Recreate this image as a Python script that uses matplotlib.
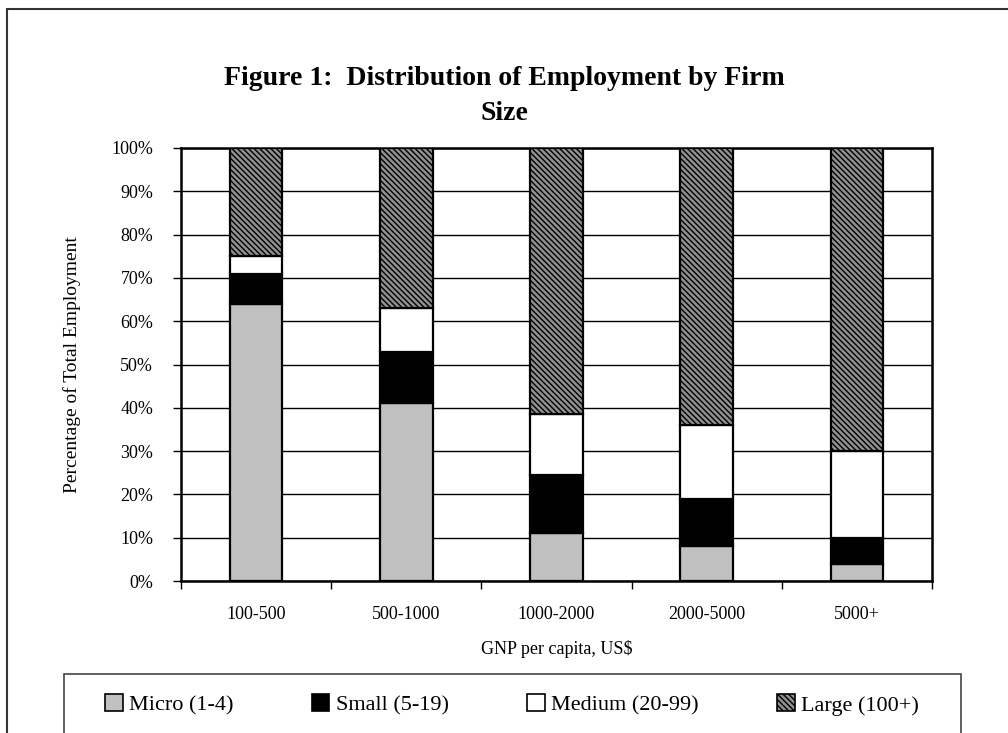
import numpy as np
import matplotlib
matplotlib.use("Agg")
from matplotlib import pyplot as plt
from matplotlib.patches import Rectangle, Patch

# Data (percent of total employment)
categories = ["100-500", "500-1000", "1000-2000", "2000-5000", "5000+"]
micro = [64, 41, 11, 8, 4]
small = [7, 12, 13.5, 11, 6]
medium = [4, 10, 14, 17, 20]
large = [100 - a - b - c for a, b, c in zip(micro, small, medium)]
series_names = ["Micro (1-4)", "Small (5-19)", "Medium (20-99)", "Large (100+)"]

plt.rcParams.update({
    "font.family": ["Liberation Serif", "DejaVu Serif"],
    "hatch.linewidth": 1.0,
    "hatch.color": "#2a2a2a",
})

fig = plt.figure(figsize=(10.08, 7.33), dpi=100)
ax = fig.add_axes([181/1008, 1 - 581/733, 751/1008, 433/733])

x = np.arange(len(categories))
w = 0.35
styles = [
    dict(color="#c0c0c0"),
    dict(color="black"),
    dict(color="white"),
    dict(color="#909090", hatch="\\\\\\\\\\\\"),
]
bottom = np.zeros(len(categories))
for vals, st in zip([micro, small, medium, large], styles):
    ax.bar(x, vals, w, bottom=bottom, edgecolor="black", linewidth=1.6,
           zorder=3, **st)
    bottom += np.array(vals)

ax.set_xlim(-0.5, len(categories) - 0.5)
ax.set_ylim(0, 100)
ax.set_yticks(np.arange(0, 101, 10))
ax.set_yticklabels([f"{v}%" for v in range(0, 101, 10)], fontsize=13)
ax.yaxis.grid(True, color="black", linewidth=1.0, zorder=0)
ax.tick_params(axis="y", direction="out", length=6, width=1, pad=14)

ax.set_xticks(x)
ax.set_xticklabels(categories, fontsize=13)
ax.tick_params(axis="x", which="major", length=0, pad=18)
ax.set_xticks(np.arange(-0.5, len(categories), 1), minor=True)
ax.tick_params(axis="x", which="minor", direction="out", length=6, width=1)
for s in ax.spines.values():
    s.set_linewidth(1.8)
    s.set_color("black")

ax.set_xlabel("GNP per capita, US$", fontsize=13, labelpad=12)
ax.set_ylabel("Percentage of Total Employment", fontsize=14, labelpad=22)

fig.text(0.5, 1 - 96/733, "Figure 1:  Distribution of Employment by Firm\nSize",
         ha="center", va="center", fontsize=20, fontweight="bold",
         linespacing=1.5)

# outer chart frame (only left and top edges fall inside the picture)
fig.patches.append(Rectangle((7/1008, -0.1), 1.2, 1.1 - 9/733,
                             transform=fig.transFigure, fill=False,
                             edgecolor="#333333", linewidth=1.5))
# legend box (bottom edge falls outside the picture)
fig.patches.append(Rectangle((64/1008, -0.1), (961 - 64)/1008, 0.1 + 1 - 674/733,
                             transform=fig.transFigure, fill=False,
                             edgecolor="#444444", linewidth=1.2))

handles = [Patch(facecolor=st["color"], hatch=st.get("hatch"), edgecolor="black",
                 linewidth=1.2) for st in styles]
fig.legend(handles, series_names, loc="center", ncol=4,
           bbox_to_anchor=(512/1008, 1 - 705/733), frameon=False, fontsize=16,
           handlelength=0.8, handleheight=0.8, handletextpad=0.3,
           columnspacing=3.5)

fig.savefig("out.png", dpi=100)
